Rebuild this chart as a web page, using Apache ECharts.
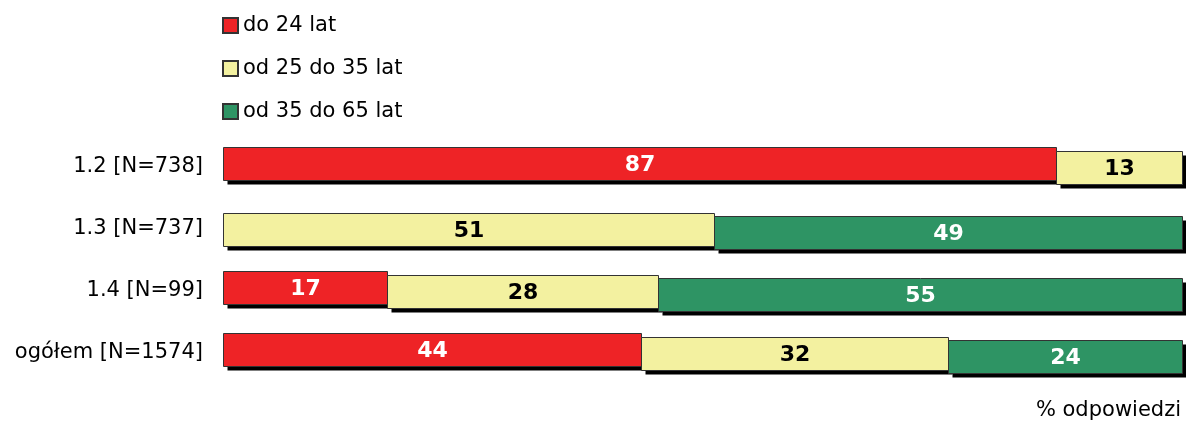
<!DOCTYPE html>
<html>
<head>
<meta charset="utf-8">
<style>
  html, body { margin: 0; padding: 0; background: #fff; }
  #chart { width: 1186px; height: 422px; }
</style>
<script src="https://cdn.jsdelivr.net/npm/echarts@6/dist/echarts.min.js"></script>
</head>
<body>
<div id="chart"></div>
<script>
const categories = ["1.2 [N=738]", "1.3 [N=737]", "1.4 [N=99]", "ogółem [N=1574]"];
const seriesNames = ["do 24 lat", "od 25 do 35 lat", "od 35 do 65 lat"];
const do24 = [86.9, null, 17.1, 43.6];
const od25 = [13.1, 51.2, 28.3, 32.0];
const od35 = [null, 48.8, 54.6, 24.4];
const axisName = "% odpowiedzi";

const colors = ["#ee2326", "#f3f1a0", "#2e9464"];
const labelColors = ["#ffffff", "#000000", "#ffffff"];
const font = "'DejaVu Sans', Verdana, sans-serif";
const BAR_H = 33;
const STEP = 3.5; // each age group sits a bit lower than the previous one

// [category index, start, end, value] so every segment begins where the previous ended
const groups = [do24, od25, od35];
const segments = groups.map((vals, g) =>
  vals
    .map((v, i) => {
      if (v == null) return null;
      let start = 0;
      for (let k = 0; k < g; k++) start += groups[k][i] || 0;
      return [i, start, start + v, v];
    })
    .filter(Boolean)
);

function makeRender(idx) {
  return function (params, api) {
    const cat = api.value(0);
    const p0 = api.coord([api.value(1), cat]);
    const p1 = api.coord([api.value(2), cat]);
    const x = Math.round(p0[0]) + 0.5;
    const w = Math.round(p1[0]) - Math.round(p0[0]);
    const y = Math.round(p0[1] - BAR_H / 2 + (idx - 1) * STEP) + 0.5;
    return {
      type: "group",
      children: [
        {
          type: "rect",
          shape: { x: x + 4, y: y + 4, width: w, height: BAR_H },
          style: { fill: "#000" },
        },
        {
          type: "rect",
          shape: { x, y, width: w, height: BAR_H },
          style: { fill: colors[idx], stroke: "#333", lineWidth: 1 },
        },
        {
          type: "text",
          x: x + w / 2,
          y: y + BAR_H / 2 + 1,
          style: {
            text: String(Math.round(api.value(3))),
            fill: labelColors[idx],
            font: "bold 22px " + font,
            align: "center",
            verticalAlign: "middle",
          },
        },
      ],
    };
  };
}

const chart = echarts.init(document.getElementById("chart"));
chart.setOption({
  animation: false,
  backgroundColor: "#fff",
  title: {
    text: axisName,
    right: 5,
    top: 400,
    padding: 0,
    textStyle: { fontFamily: font, fontSize: 21, fontWeight: "normal", color: "#000" },
  },
  legend: {
    data: seriesNames,
    orient: "vertical",
    left: 222,
    top: 15,
    padding: 0,
    itemGap: 22,
    itemWidth: 15,
    itemHeight: 15,
    icon: "rect",
    textStyle: { fontFamily: font, fontSize: 21, color: "#000" },
  },
  grid: { left: 223, right: 4, top: 136, bottom: 38 },
  xAxis: {
    type: "value",
    min: 0,
    max: 100,
    show: false,
  },
  yAxis: {
    type: "category",
    data: categories,
    inverse: true,
    axisLine: { show: false },
    axisTick: { show: false },
    axisLabel: { color: "#000", fontFamily: font, fontSize: 21, margin: 20 },
  },
  series: segments.map((data, idx) => ({
    name: seriesNames[idx],
    type: "custom",
    renderItem: makeRender(idx),
    encode: { x: [1, 2], y: 0 },
    itemStyle: { color: colors[idx], borderColor: "#333", borderWidth: 1 },
    z: 2 + idx,
    data,
  })),
});
</script>
</body>
</html>
